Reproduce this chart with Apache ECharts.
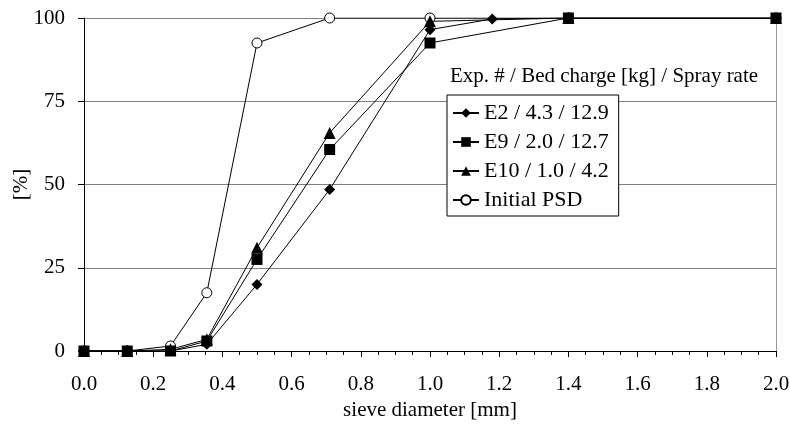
<!DOCTYPE html>
<html>
<head>
<meta charset="utf-8">
<script src="https://cdn.jsdelivr.net/npm/echarts@6/dist/echarts.min.js"></script>
<style>
  html, body { margin: 0; padding: 0; background: #fff; }
  #chart { width: 790px; height: 427px; }
</style>
</head>
<body>
<div id="chart"></div>
<script>
// Cumulative particle size distribution, % passing vs sieve diameter [mm]
const sieveE2 = [0, 0.125, 0.25, 0.355, 0.5, 0.71, 1.0, 1.18, 1.4, 2.0];
const valuesE2 = [0, 0, 0, 2, 20, 48.5, 96.5, 99.7, 100, 100];

const sieveE9 = [0, 0.125, 0.25, 0.355, 0.5, 0.71, 1.0, 1.4, 2.0];
const valuesE9 = [0, 0, 0, 3, 27.5, 60.5, 92.5, 100, 100];

const sieveE10 = [0, 0.125, 0.25, 0.355, 0.5, 0.71, 1.0, 1.4, 2.0];
const valuesE10 = [0, 0, 0.5, 3.5, 31, 65.5, 99, 100, 100];

const sieveInit = [0, 0.125, 0.25, 0.355, 0.5, 0.71, 1.0, 1.4, 2.0];
const valuesInit = [0, 0, 1.5, 17.5, 92.5, 100, 100, 100, 100];

const seriesNames = ['E2 / 4.3 / 12.9', 'E9 / 2.0 / 12.7', 'E10 / 1.0 / 4.2', 'Initial PSD'];
const legendTitle = 'Exp. # / Bed charge [kg] / Spray rate';
const xTicks = { min: 0, max: 2, interval: 0.2 };
const yTicks = { min: 0, max: 100, interval: 25 };

const FONT = 'Liberation Serif';
const FS = 21;
const pairs = (xs, ys) => xs.map((x, i) => [x, ys[i]]);

const chart = echarts.init(document.getElementById('chart'), null, { renderer: 'canvas' });

function lineSeries(name, data, symbol, size, filled) {
  return {
    name: name,
    type: 'line',
    data: data,
    symbol: symbol,
    symbolSize: size,
    showAllSymbol: true,
    lineStyle: { color: '#000', width: 1 },
    itemStyle: filled
      ? { color: '#000', borderColor: '#000', borderWidth: 0 }
      : { color: '#fff', borderColor: '#000', borderWidth: 1 },
    emphasis: { disabled: true },
    animation: false
  };
}

chart.setOption({
  backgroundColor: '#fff',
  animation: false,
  textStyle: { fontFamily: FONT },
  title: {
    text: legendTitle,
    left: 446,
    top: 66,
    padding: [0, 0, 0, 4],
    textStyle: { fontFamily: FONT, fontSize: FS, fontWeight: 'normal', color: '#000' }
  },
  legend: {
    orient: 'vertical',
    left: 447,
    top: 95,
    padding: [7, 10, 5, 5],
    itemGap: 7,
    itemWidth: 26,
    itemHeight: 12,
    backgroundColor: '#fff',
    borderColor: '#000',
    borderWidth: 1,
    borderRadius: 0,
    textStyle: { fontFamily: FONT, fontSize: 22, color: '#000' },
    data: seriesNames
  },
  grid: { left: 84, right: 14, top: 18, bottom: 76, outerBoundsMode: 'none' },
  xAxis: {
    type: 'value',
    min: xTicks.min,
    max: xTicks.max,
    interval: xTicks.interval,
    name: 'sieve diameter [mm]',
    nameLocation: 'middle',
    nameGap: 49,
    nameMoveOverlap: false,
    nameTextStyle: { fontFamily: FONT, fontSize: FS, color: '#000' },
    axisLine: { show: true, onZero: false, lineStyle: { color: '#000', width: 1 } },
    axisTick: { show: true, length: 6, lineStyle: { color: '#000' } },
    minorTick: { show: true, splitNumber: 4, length: 4, lineStyle: { color: '#000' } },
    axisLabel: {
      margin: 23,
      fontFamily: FONT,
      fontSize: FS,
      color: '#000',
      formatter: v => v.toFixed(1)
    },
    splitLine: { show: false }
  },
  yAxis: [
    {
      type: 'value',
      min: yTicks.min,
      max: yTicks.max,
      interval: yTicks.interval,
      name: '[%]',
      nameLocation: 'middle',
      nameGap: 52,
      nameMoveOverlap: false,
      nameRotate: 90,
      nameTextStyle: { fontFamily: FONT, fontSize: FS, color: '#000' },
      axisLine: { show: true, lineStyle: { color: '#000', width: 1 } },
      axisTick: { show: true, length: 6, lineStyle: { color: '#000' } },
      axisLabel: { margin: 19, fontFamily: FONT, fontSize: FS, color: '#000' },
      splitLine: { show: true, lineStyle: { color: '#808080', width: 1 } }
    },
    {
      type: 'value',
      position: 'right',
      min: yTicks.min,
      max: yTicks.max,
      interval: yTicks.interval,
      axisLine: { show: true, lineStyle: { color: '#9a9a9a', width: 1 } },
      axisTick: { show: false },
      axisLabel: { show: false },
      splitLine: { show: false }
    }
  ],
  series: [
    lineSeries(seriesNames[3], pairs(sieveInit, valuesInit), 'circle', 10, false),
    lineSeries(seriesNames[0], pairs(sieveE2, valuesE2), 'diamond', 11, true),
    lineSeries(seriesNames[1], pairs(sieveE9, valuesE9), 'rect', 11, true),
    lineSeries(seriesNames[2], pairs(sieveE10, valuesE10), 'triangle', 12, true)
  ]
});
</script>
</body>
</html>
